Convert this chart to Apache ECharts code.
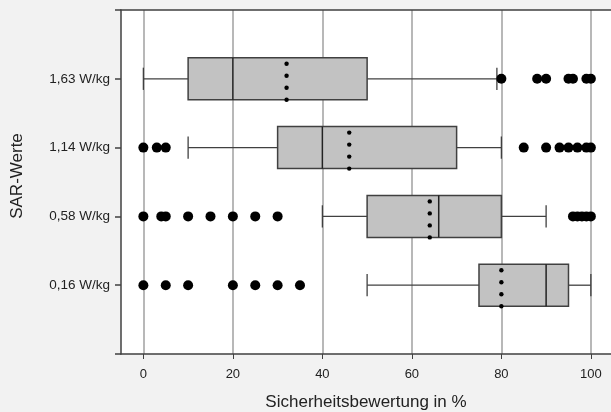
<!DOCTYPE html>
<html>
<head>
<meta charset="utf-8">
<script src="https://cdn.jsdelivr.net/npm/echarts@6/dist/echarts.min.js"></script>
<style>
html,body{margin:0;padding:0;background:#f2f2f2;}
#chart{width:611px;height:412px;}
</style>
</head>
<body>
<div id="chart"></div>
<script>
const categories = ['0,16 W/kg', '0,58 W/kg', '1,14 W/kg', '1,63 W/kg'];
const whiskerLow = [50, 40, 10, 0];
const q1 = [75, 50, 30, 10];
const median = [90, 66, 40, 20];
const mean = [80, 64, 46, 32];
const q3 = [95, 80, 70, 50];
const whiskerHigh = [100, 90, 80, 79];
const outliers = [
  [0, 5, 10, 20, 25, 30, 35],
  [0, 4, 5, 10, 15, 20, 25, 30, 96, 97, 98, 99, 100],
  [0, 3, 5, 85, 90, 93, 95, 97, 99, 100],
  [80, 88, 90, 95, 96, 99, 100]
];
const xTicks = [0, 20, 40, 60, 80, 100];
const yTicks = [0, 1, 2, 3, 4, 5];

const boxData = categories.map((c, i) => [i + 1, whiskerLow[i], q1[i], median[i], mean[i], q3[i], whiskerHigh[i]]);
const outlierData = [];
outliers.forEach((arr, i) => arr.forEach(v => outlierData.push([v, i + 1])));

const LINE = '#404040';
const chart = echarts.init(document.getElementById('chart'), null, {renderer: 'canvas'});
chart.setOption({
  backgroundColor: '#f2f2f2',
  animation: false,
  grid: {left: 121, right: 0, top: 10, bottom: 58, show: true, backgroundColor: '#fff', borderWidth: 0,
    containLabel: false, outerBoundsMode: 'none'},
  xAxis: [{
    type: 'value', min: -5, max: 104.5,
    name: 'Sicherheitsbewertung in %', nameLocation: 'middle', nameGap: 40,
    nameTextStyle: {fontFamily: 'Liberation Sans', fontSize: 17, color: '#222'},
    axisLine: {show: true, onZero: false, lineStyle: {color: LINE, width: 1.5}},
    axisTick: {show: true, length: 5, customValues: xTicks, lineStyle: {color: LINE, width: 1}},
    axisLabel: {customValues: xTicks, margin: 14, fontFamily: 'Liberation Sans', fontSize: 13, color: '#222'},
    splitLine: {show: true, lineStyle: {color: '#a0a0a0', width: 1.5}}
  }, {
    type: 'value', min: -5, max: 104.5, position: 'top',
    axisLine: {show: true, onZero: false, lineStyle: {color: LINE, width: 1.5}},
    axisTick: {show: false}, axisLabel: {show: false}, splitLine: {show: false}
  }],
  yAxis: {
    type: 'value', min: 0, max: 5,
    name: 'SAR-Werte', nameLocation: 'middle', nameGap: 95,
    nameTextStyle: {fontFamily: 'Liberation Sans', fontSize: 17, color: '#222', padding: [0, 0, 0, 12]},
    axisLine: {show: true, onZero: false, lineStyle: {color: LINE, width: 1.5}},
    axisTick: {show: true, length: 6, customValues: yTicks, lineStyle: {color: LINE, width: 1.5}},
    axisLabel: {
      customValues: yTicks, margin: 11, fontFamily: 'Liberation Sans', fontSize: 13.5, color: '#222',
      formatter: v => (v >= 1 && v <= categories.length) ? categories[v - 1] : ''
    },
    splitLine: {show: false}
  },
  series: [{
    type: 'custom',
    data: boxData,
    encode: {y: 0, x: [1, 2, 3, 4, 5, 6]},
    z: 3,
    renderItem: function (params, api) {
      const y = api.value(0);
      const unit = api.size([0, 1])[1];
      const boxH = unit * 0.61;
      const capH = boxH * 0.53;
      const pLow = api.coord([api.value(1), y]);
      const pQ1 = api.coord([api.value(2), y]);
      const pMed = api.coord([api.value(3), y]);
      const pMean = api.coord([api.value(4), y]);
      const pQ3 = api.coord([api.value(5), y]);
      const pHigh = api.coord([api.value(6), y]);
      const cy = pLow[1];
      const top = cy - boxH / 2;
      const ls = {stroke: LINE, lineWidth: 1.3, fill: null};
      const children = [
        {type: 'line', shape: {x1: pLow[0], y1: cy, x2: pQ1[0], y2: cy}, style: ls},
        {type: 'line', shape: {x1: pQ3[0], y1: cy, x2: pHigh[0], y2: cy}, style: ls},
        {type: 'line', shape: {x1: pLow[0], y1: cy - capH / 2, x2: pLow[0], y2: cy + capH / 2}, style: ls},
        {type: 'line', shape: {x1: pHigh[0], y1: cy - capH / 2, x2: pHigh[0], y2: cy + capH / 2}, style: ls},
        {type: 'rect', shape: {x: pQ1[0], y: top, width: pQ3[0] - pQ1[0], height: boxH},
          style: {fill: '#c2c2c2', stroke: LINE, lineWidth: 1.5}},
        {type: 'line', shape: {x1: pMed[0], y1: top, x2: pMed[0], y2: top + boxH},
          style: {stroke: '#222', lineWidth: 1.5}}
      ];
      for (let k = 0; k < 4; k++) {
        children.push({type: 'circle', shape: {cx: pMean[0], cy: top + boxH * (2 * k + 1) / 7, r: 2.2},
          style: {fill: '#000'}});
      }
      return {type: 'group', children: children};
    }
  }, {
    type: 'scatter',
    data: outlierData,
    symbol: 'circle',
    symbolSize: 10,
    itemStyle: {color: '#000', opacity: 1},
    z: 4
  }]
});
</script>
</body>
</html>
